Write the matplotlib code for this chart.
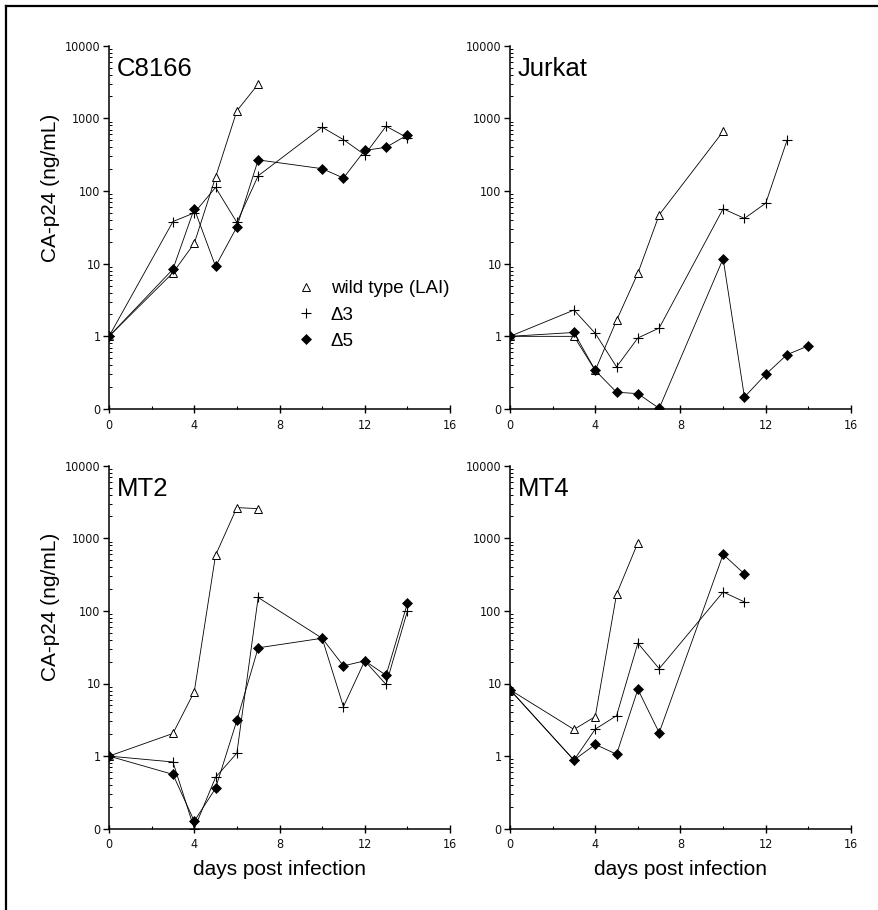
import matplotlib
matplotlib.use("Agg")
import matplotlib.pyplot as plt
from matplotlib.lines import Line2D
from matplotlib import font_manager
from matplotlib.ticker import FixedLocator, NullFormatter, LogLocator

# ---------------- data ----------------
panels = ["C8166", "Jurkat", "MT2", "MT4"]
series_labels = ["wild type (LAI)", "\u03943", "\u03945"]

c8166_wt_days = [0, 3, 4, 5, 6, 7]
c8166_wt = [1, 7.5, 19, 155, 1270, 2960]
c8166_d3_days = [0, 3, 4, 5, 6, 7, 10, 11, 12, 13, 14]
c8166_d3 = [1, 38, 50, 112, 37, 162, 755, 510, 315, 780, 540]
c8166_d5_days = [0, 3, 4, 5, 6, 7, 10, 11, 12, 13, 14]
c8166_d5 = [1, 8.4, 57, 9.2, 32, 268, 203, 151, 362, 400, 590]

jurkat_wt_days = [0, 3, 4, 5, 6, 7, 10]
jurkat_wt = [1, 1.0, 0.34, 1.66, 7.4, 47, 660]
jurkat_d3_days = [0, 3, 4, 5, 6, 7, 10, 11, 12, 13]
jurkat_d3 = [1, 2.3, 1.1, 0.38, 0.95, 1.3, 57, 42, 68, 500]
jurkat_d5_days = [0, 3, 4, 5, 6, 7, 10, 11, 12, 13, 14]
jurkat_d5 = [1, 1.13, 0.34, 0.17, 0.163, 0.102, 11.7, 0.146, 0.30, 0.56, 0.74]

mt2_wt_days = [0, 3, 4, 5, 6, 7]
mt2_wt = [1, 2.05, 7.7, 585, 2650, 2560]
mt2_d3_days = [0, 3, 4, 5, 6, 7, 10, 11, 12, 13, 14]
mt2_d3 = [1, 0.83, 0.1, 0.51, 1.1, 153, 42, 4.8, 20.5, 9.7, 99]
mt2_d5_days = [0, 3, 4, 5, 6, 7, 10, 11, 12, 13, 14]
mt2_d5 = [1, 0.56, 0.127, 0.36, 3.1, 31, 42, 17.5, 20.5, 13, 127]

mt4_wt_days = [0, 3, 4, 5, 6]
mt4_wt = [8.2, 2.33, 3.5, 170, 870]
mt4_d3_days = [0, 3, 4, 5, 6, 7, 10, 11]
mt4_d3 = [8.2, 0.88, 2.35, 3.6, 36, 16, 182, 133]
mt4_d5_days = [0, 3, 4, 5, 6, 7, 10, 11]
mt4_d5 = [8.2, 0.88, 1.45, 1.06, 8.3, 2.1, 600, 323]

x_ticks = [0, 4, 8, 12, 16]
y_ticks = [0.1, 1, 10, 100, 1000, 10000]
y_tick_labels = ["0", "1", "10", "100", "1000", "10000"]

data = {
    "C8166": [(c8166_wt_days, c8166_wt), (c8166_d3_days, c8166_d3), (c8166_d5_days, c8166_d5)],
    "Jurkat": [(jurkat_wt_days, jurkat_wt), (jurkat_d3_days, jurkat_d3), (jurkat_d5_days, jurkat_d5)],
    "MT2": [(mt2_wt_days, mt2_wt), (mt2_d3_days, mt2_d3), (mt2_d5_days, mt2_d5)],
    "MT4": [(mt4_wt_days, mt4_wt), (mt4_d3_days, mt4_d3), (mt4_d5_days, mt4_d5)],
}

# ---------------- style ----------------
fl = font_manager.fontManager.ttflist
names = {f.name for f in fl}
main_font = ["Liberation Sans", "DejaVu Sans"]
plt.rcParams["font.family"] = main_font

if "Liberation Sans Narrow" in names:
    tick_font = dict(fontfamily=["Liberation Sans Narrow", "DejaVu Sans"], fontsize=10.5)
elif any(f.name == "DejaVu Sans" and str(f.stretch) in ("condensed", "semi-condensed") for f in fl):
    tick_font = dict(fontfamily=["DejaVu Sans"], fontstretch="condensed", fontsize=9)
else:
    tick_font = dict(fontfamily=main_font, fontsize=9)

styles = [
    dict(marker="^", markersize=6, markerfacecolor="white", markeredgecolor="black", markeredgewidth=0.7),
    dict(marker="+", markersize=7, markeredgecolor="black", markeredgewidth=0.8),
    dict(marker="D", markersize=4.6, markerfacecolor="black", markeredgecolor="black", markeredgewidth=0.5),
]

fig = plt.figure(figsize=(8.79, 9.10), dpi=100)
W, H = 879, 910
positions = {
    "C8166": (109, 45.7, 450, 409),
    "Jurkat": (510, 45.7, 851, 409),
    "MT2": (109, 465.7, 450, 828.7),
    "MT4": (510, 465.7, 851, 828.7),
}

axes = {}
for name in panels:
    x0, y0, x1, y1 = positions[name]
    ax = fig.add_axes([x0 / W, 1 - y1 / H, (x1 - x0) / W, (y1 - y0) / H])
    axes[name] = ax
    for i, (d, v) in enumerate(data[name]):
        ax.plot(d, v, color="black", linewidth=0.6, zorder=3 + i, **styles[i])
    ax.set_yscale("log")
    ax.set_ylim(0.1, 10000)
    ax.set_xlim(0, 16)
    ax.yaxis.set_major_locator(FixedLocator(y_ticks))
    ax.set_yticklabels(y_tick_labels)
    ax.yaxis.set_minor_locator(LogLocator(base=10, subs=range(2, 10)))
    ax.yaxis.set_minor_formatter(NullFormatter())
    ax.set_xticks(x_ticks)
    ax.set_xticks([2, 6, 10, 14], minor=True)
    for s in ["top", "right"]:
        ax.spines[s].set_visible(False)
    for s in ["left", "bottom"]:
        ax.spines[s].set_linewidth(1.1)
    ax.tick_params(axis="y", which="major", direction="out", length=4, width=1, pad=2)
    ax.tick_params(axis="y", which="minor", direction="in", length=2.5, width=0.7)
    ax.tick_params(axis="x", which="major", direction="inout", length=6, width=1, pad=4)
    ax.tick_params(axis="x", which="minor", direction="in", length=2.5, width=0.8)
    for lab in ax.get_xticklabels() + ax.get_yticklabels():
        lab.set_fontfamily(tick_font["fontfamily"])
        lab.set_fontsize(tick_font["fontsize"])
        if "fontstretch" in tick_font:
            lab.set_fontstretch(tick_font["fontstretch"])
        lab.set_color("#111111")
    ax.text(0.022, 0.917, name, transform=ax.transAxes, fontsize=18.5,
            ha="left", va="baseline")

for name in ["C8166", "MT2"]:
    ax = axes[name]
    ax.set_ylabel("CA-p24 (ng/mL)", fontsize=15)
    ax.yaxis.set_label_coords(-0.145, 0.61)
for name in ["MT2", "MT4"]:
    ax = axes[name]
    ax.set_xlabel("days post infection", fontsize=15)
    ax.xaxis.set_label_coords(0.5, -0.085)

handles = [Line2D([], [], linestyle="none", color="black", **st) for st in styles]
axes["C8166"].legend(handles, series_labels, loc="center left",
                     bbox_to_anchor=(297 / W, 1 - 315 / H), bbox_transform=fig.transFigure,
                     frameon=False, fontsize=13.5, handlelength=1.0, handletextpad=0.8,
                     labelspacing=0.48, borderpad=0, borderaxespad=0)

# outer frame (top and left edges)
fig.add_artist(Line2D([6 / W, 1.0], [1 - 6 / H, 1 - 6 / H], color="black", linewidth=1.6,
                      transform=fig.transFigure))
fig.add_artist(Line2D([6 / W, 6 / W], [0.0, 1 - 6 / H], color="black", linewidth=1.6,
                      transform=fig.transFigure))

fig.savefig("out.png", dpi=100, facecolor="white")
